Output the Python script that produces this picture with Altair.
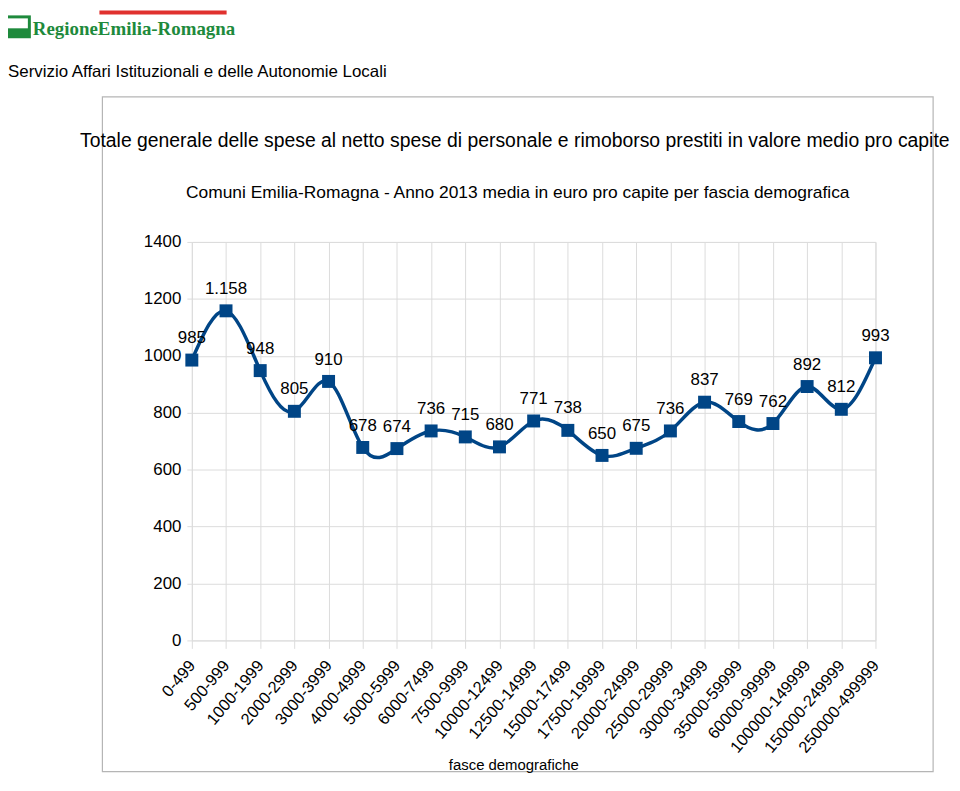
import altair as alt
import pandas as pd

categories = ["0-499", "500-999", "1000-1999", "2000-2999", "3000-3999", "4000-4999",
              "5000-5999", "6000-7499", "7500-9999", "10000-12499", "12500-14999",
              "15000-17499", "17500-19999", "20000-24999", "25000-29999", "30000-34999",
              "35000-59999", "60000-99999", "100000-149999", "150000-249999", "250000-499999"]
values = [985, 1158, 948, 805, 910, 678, 674, 736, 715, 680, 771, 738, 650, 675, 736,
          837, 769, 762, 892, 812, 993]
y_ticks = [0, 200, 400, 600, 800, 1000, 1200, 1400]

logo_text = "RegioneEmilia-Romagna"
service_text = "Servizio Affari Istituzionali e delle Autonomie Locali"
title_text = "Totale generale delle spese al netto spese di personale e rimoborso prestiti in valore medio pro capite"
subtitle_text = "Comuni Emilia-Romagna - Anno 2013 media in euro pro capite per fascia demografica"
x_title = "fasce demografiche"

df = pd.DataFrame({
    "fascia": categories,
    "valore": values,
    "etichetta": [f"{v:,}".replace(",", ".") for v in values],
})

BLUE = "#004586"
GREEN = "#1e8a3c"
SANS = "Liberation Sans, Arial, sans-serif"

x_enc = alt.X("fascia:N", sort=categories,
              scale=alt.Scale(type="point", padding=0),
              axis=alt.Axis(title=None, labelAngle=-50, labelFontSize=16.5, labelFont=SANS,
                            labelColor="#000000", labelPadding=14, grid=True, gridColor="#dcdcdc",
                            ticks=True, tickColor="#dcdcdc", tickSize=8, domain=False))
y_enc = alt.Y("valore:Q", scale=alt.Scale(domain=[0, 1400], nice=False),
              axis=alt.Axis(title=None, values=y_ticks, format="d", labelFontSize=17,
                            labelFont=SANS, labelColor="#000000", labelPadding=6, grid=True,
                            gridColor="#dcdcdc", tickColor="#dcdcdc", tickSize=5, domain=False))

base = alt.Chart(df)

line = base.mark_line(interpolate="natural", color=BLUE, strokeWidth=3.5).encode(x=x_enc, y=y_enc)
points = base.mark_square(color=BLUE, size=170, opacity=1).encode(x=x_enc, y=y_enc)
labels = base.mark_text(dy=-22, fontSize=17, font=SANS, color="#000000").encode(
    x=x_enc, y=y_enc, text="etichetta:N")

one = pd.DataFrame({"k": [0]})
deco = alt.Chart(one)

frame = deco.mark_rect(fill=None, stroke="#b5b5b5", strokeWidth=1.2).encode(
    x=alt.value(-90), x2=alt.value(746), y=alt.value(-146), y2=alt.value(533))
red_bar = deco.mark_rect(color="#e0312e").encode(
    x=alt.value(-93), x2=alt.value(35), y=alt.value(-233), y2=alt.value(-229))
icon = deco.mark_rect(color=GREEN).encode(
    x=alt.value(-189), x2=alt.value(-162), y=alt.value(-228), y2=alt.value(-205))
icon_in = deco.mark_rect(color="#ffffff").encode(
    x=alt.value(-186), x2=alt.value(-165), y=alt.value(-225), y2=alt.value(-215))
logo = deco.mark_text(text=logo_text, font="Liberation Serif, serif", fontWeight="bold",
                      fontSize=19, color=GREEN, align="left", baseline="alphabetic").encode(
    x=alt.value(-160), y=alt.value(-208))
service = deco.mark_text(text=service_text, font=SANS, fontSize=17, color="#000000",
                         align="left", baseline="alphabetic").encode(
    x=alt.value(-185), y=alt.value(-166))
title = deco.mark_text(text=title_text, font=SANS, fontSize=19.5, color="#000000",
                       align="center", baseline="alphabetic").encode(
    x=alt.value(325), y=alt.value(-96))
subtitle = deco.mark_text(text=subtitle_text, font=SANS, fontSize=17.5, color="#000000",
                          align="center", baseline="alphabetic").encode(
    x=alt.value(328), y=alt.value(-44))
xtitle = deco.mark_text(text=x_title, font=SANS, fontSize=15, color="#000000",
                        align="center", baseline="alphabetic").encode(
    x=alt.value(324), y=alt.value(531))

chart = alt.layer(
    frame, red_bar, icon, icon_in, logo, service, title, subtitle, xtitle,
    line, points, labels
).properties(
    width=688, height=401,
    autosize=alt.AutoSizeParams(type="none"),
    padding={"left": 185, "top": 233, "right": 77, "bottom": 134},
).configure_view(stroke=None).configure(background="#ffffff")

chart.save("out.html", embed_options={"renderer": "svg", "actions": False})
